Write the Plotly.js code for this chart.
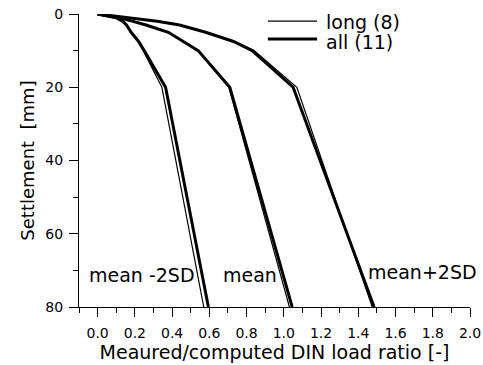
<!DOCTYPE html>
<html>
<head>
<meta charset="utf-8">
<script src="https://cdn.plot.ly/plotly-3.0.1.min.js"></script>
<style>html,body{margin:0;padding:0;background:#fff;}#chart{width:483px;height:365px;}</style>
</head>
<body>
<div id="chart"></div>
<script>
// Settlement levels [mm]
const settlement = [0, 0.5, 1, 2, 3, 5, 7.5, 10, 20, 80];

// Load ratios, "all (11)" piles (thick lines)
const allMinus2SD = [0, 0.05, 0.10, 0.135, 0.155, 0.18, 0.22, 0.25, 0.365, 0.595];
const allMean     = [0, 0.06, 0.11, 0.19, 0.26, 0.38, 0.46, 0.54, 0.71, 1.045];
const allPlus2SD  = [0, 0.08, 0.15, 0.32, 0.44, 0.58, 0.73, 0.83, 1.05, 1.485];

// Load ratios, "long (8)" piles (thin lines)
const longMinus2SD = [0, 0.05, 0.10, 0.135, 0.155, 0.18, 0.22, 0.245, 0.345, 0.57];
const longMean     = [0, 0.06, 0.11, 0.19, 0.26, 0.38, 0.46, 0.54, 0.705, 1.03];
const longPlus2SD  = [0, 0.08, 0.15, 0.32, 0.44, 0.58, 0.735, 0.84, 1.07, 1.475];

const legendLabels = ["long (8)", "all (11)"];
const curveLabels = ["mean -2SD", "mean", "mean+2SD"];

const FONT = "DejaVu Sans, sans-serif";
const thin = {color: "#000", width: 1.2};
const thick = {color: "#000", width: 3};

function tr(x, line, name) {
  return {x: x, y: settlement, type: "scatter", mode: "lines", line: line, name: name, showlegend: false, hoverinfo: "skip"};
}

const data = [
  tr(longMinus2SD, thin, legendLabels[0]),
  tr(longMean, thin, legendLabels[0]),
  tr(longPlus2SD, thin, legendLabels[0]),
  tr(allMinus2SD, thick, legendLabels[1]),
  tr(allMean, thick, legendLabels[1]),
  tr(allPlus2SD, thick, legendLabels[1])
];

const layout = {
  width: 483, height: 365,
  margin: {l: 79, r: 13, t: 14, b: 58},
  paper_bgcolor: "#fff", plot_bgcolor: "#fff",
  font: {family: FONT, color: "#000", size: 14},
  showlegend: false,
  xaxis: {
    range: [-0.1, 2.0], tick0: 0, dtick: 0.2, tickformat: ".1f",
    ticks: "outside", ticklen: 9, tickwidth: 1, tickcolor: "#000",
    minor: {dtick: 0.1, tick0: 0, ticks: "outside", ticklen: 5, tickwidth: 1, tickcolor: "#000", showgrid: false},
    showline: true, linecolor: "#000", linewidth: 1,
    showgrid: false, zeroline: false,
    ticklabelstandoff: 4,
    tickfont: {family: FONT, size: 14},
    title: {text: "Meaured/computed DIN load ratio [-]", font: {family: FONT, size: 19}, standoff: 2}
  },
  yaxis: {
    range: [80, 0], tick0: 0, dtick: 20,
    ticks: "outside", ticklen: 9, tickwidth: 1, tickcolor: "#000",
    minor: {dtick: 10, tick0: 0, ticks: "outside", ticklen: 5, tickwidth: 1, tickcolor: "#000", showgrid: false},
    showline: true, linecolor: "#000", linewidth: 1,
    showgrid: false, zeroline: false,
    ticklabelstandoff: 3,
    tickfont: {family: FONT, size: 14},
    title: {text: "Settlement  [mm]", font: {family: FONT, size: 18}, standoff: 6}
  },
  shapes: [
    {type: "line", xref: "paper", yref: "paper", x0: 0.483, x1: 0.609, y0: 0.976, y1: 0.976, line: thin},
    {type: "line", xref: "paper", yref: "paper", x0: 0.483, x1: 0.609, y0: 0.915, y1: 0.915, line: thick}
  ],
  annotations: [
    {xref: "paper", yref: "paper", x: 0.626, y: 0.973, xanchor: "left", yanchor: "middle", text: legendLabels[0], showarrow: false, font: {family: FONT, size: 19}},
    {xref: "paper", yref: "paper", x: 0.626, y: 0.903, xanchor: "left", yanchor: "middle", text: legendLabels[1], showarrow: false, font: {family: FONT, size: 19}},
    {xref: "x", yref: "y", x: 0.237, y: 71.3, xanchor: "center", yanchor: "middle", text: curveLabels[0], showarrow: false, font: {family: FONT, size: 19}},
    {xref: "x", yref: "y", x: 0.82, y: 71.3, xanchor: "center", yanchor: "middle", text: curveLabels[1], showarrow: false, font: {family: FONT, size: 19}},
    {xref: "x", yref: "y", x: 1.745, y: 70.4, xanchor: "center", yanchor: "middle", text: curveLabels[2], showarrow: false, font: {family: FONT, size: 19}}
  ]
};

Plotly.newPlot("chart", data, layout, {displayModeBar: false, staticPlot: true});
</script>
</body>
</html>
